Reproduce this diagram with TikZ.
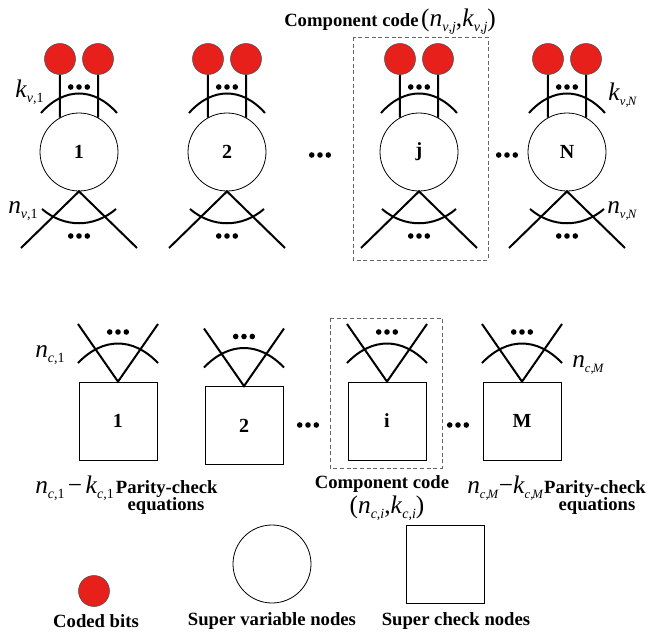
\documentclass[tikz,border=0pt]{standalone}
\usepackage{fontspec}
\setmainfont{Liberation Serif}
\definecolor{bitred}{RGB}{232,32,28}
\newcommand\ms[2]{\textit{#1}\raisebox{-0.45ex}{\fontsize{10.5}{11}\selectfont #2}}
\newcommand\mss[2]{\textit{#1}\raisebox{-0.45ex}{\fontsize{9.5}{10}\selectfont #2}}
\newcommand\mfont{\fontsize{19}{20}\selectfont}
\newcommand\bfont{\fontsize{14}{16}\selectfont\bfseries}
\begin{document}
\begin{tikzpicture}[x=0.75pt,y=-0.75pt,
  edge/.style={line width=1.5pt},
  varnode/.style={circle,draw,line width=0.6pt,minimum size=58.5pt,inner sep=0pt,font=\fontsize{15}{15}\selectfont\bfseries},
  bit/.style={circle,draw=black!70,line width=0.4pt,fill=bitred,minimum size=23.25pt,inner sep=0pt},
  chk/.style={rectangle,draw,line width=0.6pt,minimum size=58.5pt,inner sep=0pt,font=\fontsize{15}{15}\selectfont\bfseries},
  lbl/.style={font=\bfont,inner sep=0pt},
  mlbl/.style={font=\mfont,inner sep=0pt},
  cbox/.style={draw=black!60,line width=0.6pt,dash pattern=on 3pt off 2pt},
  threedots/.pic={\fill (-8.3,0) circle[radius=2.1pt] (0,0) circle[radius=2.1pt] (8.3,0) circle[radius=2.1pt];}
]
\useasboundingbox (0,0) rectangle (651,632);

% super variable nodes
\foreach \cx/\lab/\nm in {79/1/1,227/2/2,419/j/j,567/N/N}{
  \node[varnode] (v\nm) at (\cx,152) {\lab};
  \node[bit] (ba\nm) at (\cx-19,59) {};
  \node[bit] (bb\nm) at (\cx+19,59) {};
  \draw[edge] (ba\nm.south) -- (v\nm.119);
  \draw[edge] (bb\nm.south) -- (v\nm.61);
  \pic at (\cx,87) {threedots};
  \draw[edge] (\cx-38,113) .. controls (\cx-15,87) and (\cx+15,87) .. (\cx+38,113);
  \coordinate (vl\nm) at (\cx-58,248);
  \coordinate (vr\nm) at (\cx+58,248);
  \draw[edge] (vl\nm) -- (v\nm.south) -- (vr\nm);
  \draw[edge] (\cx-37,209) .. controls (\cx-15,228) and (\cx+15,228) .. (\cx+37,209);
  \pic at (\cx,236) {threedots};
}
\pic at (320,155) {threedots};
\pic at (507,155) {threedots};

% super check nodes
\foreach \cx/\cy/\lab/\nm in {118/421/1/1,244/425.5/2/2,387/421/i/i,522/421/M/M}{
  \node[chk] (c\nm) at (\cx,\cy) {\lab};
  \coordinate (cl\nm) at (\cx-40,\cy-97);
  \coordinate (cr\nm) at (\cx+40,\cy-97);
  \draw[edge] (cl\nm) -- (c\nm.north) -- (cr\nm);
  \draw[edge] (\cx-40,\cy-58) .. controls (\cx-15,\cy-84) and (\cx+15,\cy-84) .. (\cx+40,\cy-58);
  \pic at (\cx,\cy-89) {threedots};
}
\pic at (308,425) {threedots};
\pic at (458,425) {threedots};

% component code boxes
\draw[cbox] (353,37) rectangle (488,260);
\draw[cbox] (330,318) rectangle (442,468);

% labels
\node[lbl,anchor=base west] (title) at (284,26) {Component code\kern2pt {\mdseries\mfont (\ms{n}{\textit{v},\textit{j}},\ms{k}{\textit{v},\textit{j}})}};
\node[mlbl,anchor=base west] (kv1) at (15,97) {\ms{k}{\textit{v},1}};
\node[mlbl,anchor=base west] (nv1) at (8,213) {\ms{n}{\textit{v},1}};
\node[mlbl,anchor=base west] (kvN) at (608,100) {\mss{k}{\textit{v},\kern-0.6pt\textit{N}}};
\node[mlbl,anchor=base west] (nvN) at (607,213) {\mss{n}{\textit{v},\kern-0.6pt\textit{N}}};
\node[mlbl,anchor=base west] (nc1) at (35,357) {\ms{n}{\textit{c},1}};
\node[mlbl,anchor=base west] (ncM) at (572,367) {\mss{n}{\textit{c},\kern-0.6pt\textit{M}}};

\node[mlbl,anchor=base west] (pc1) at (35,493) {\ms{n}{\textit{c},1}\kern2.5pt−\kern2.5pt\ms{k}{\textit{c},1}\kern1.5pt{\bfont Parity-check}};
\node[lbl,anchor=base] (eq1) at (166,510) {equations};
\node[mlbl,anchor=base west] (pcM) at (467,493) {\mss{n}{\textit{c},\kern-0.8pt\textit{M}}−\mss{k}{\textit{c},\kern-0.8pt\textit{M}}\kern0.5pt{\bfont Parity-check}};
\node[lbl,anchor=base] (eqM) at (597,510) {equations};
\node[lbl,anchor=base] (cci) at (382,488) {Component code};
\node[mlbl,anchor=base] (nki) at (387,513) {(\ms{n}{\textit{c},\textit{i}},\ms{k}{\textit{c},\textit{i}})};

% legend
\node[bit] (lbit) at (94,591) {};
\node[varnode] (lvar) at (272,564) {};
\node[chk] (lchk) at (445,564) {};
\node[lbl,anchor=base] (tbit) at (96,627) {Coded bits};
\node[lbl,anchor=base] (tvar) at (272,625) {Super variable nodes};
\node[lbl,anchor=base] (tchk) at (456,625) {Super check nodes};
\end{tikzpicture}
\end{document}
